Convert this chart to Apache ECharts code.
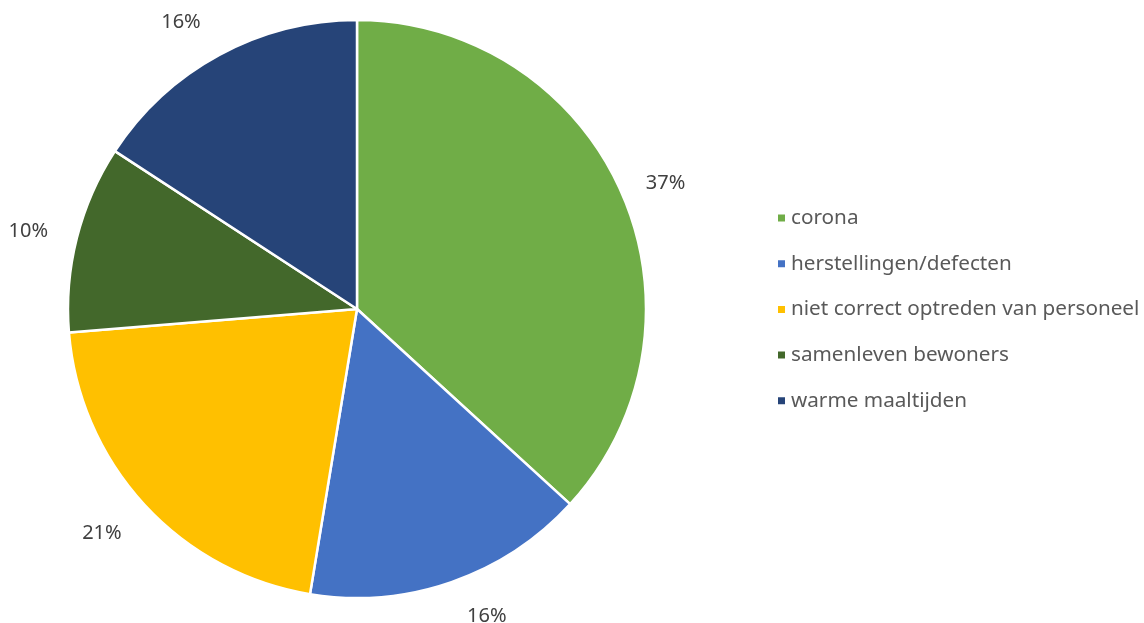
<!DOCTYPE html>
<html>
<head>
<meta charset="utf-8">
<script src="https://cdn.jsdelivr.net/npm/echarts@6/dist/echarts.min.js"></script>
<style>html,body{margin:0;padding:0;background:#fff}#c{width:1144px;height:623px}</style>
</head>
<body>
<div id="c"></div>
<script>
const categories = ['corona', 'herstellingen/defecten', 'niet correct optreden van personeel', 'samenleven bewoners', 'warme maaltijden'];
const values = [36.8, 15.8, 21.1, 10.5, 15.8];
const labels = ['37%', '16%', '21%', '10%', '16%'];
const colors = ['#70AD47', '#4472C4', '#FFC000', '#43682B', '#264478'];
// label nudges (pixels) to mimic the spreadsheet's label placement
const labelNudge = [[1, 10], [20, -10], [-8, -3], [-3, 5], [-16, 9]];

const chart = echarts.init(document.getElementById('c'));
const font = '"Noto Sans", "Open Sans", sans-serif';
chart.setOption({
  animation: false,
  color: colors,
  legend: {
    orient: 'vertical',
    left: 771,
    top: 202,
    itemWidth: 9,
    itemHeight: 9,
    itemGap: 23.7,
    icon: 'rect',
    data: categories,
    textStyle: { color: '#595959', fontSize: 20.7, fontFamily: font, lineHeight: 22 }
  },
  series: [
    {
      type: 'pie',
      center: [357, 309],
      radius: [0, 289],
      startAngle: 90,
      clockwise: true,
      silent: true,
      label: { show: false },
      labelLine: { show: false },
      itemStyle: { borderColor: '#ffffff', borderWidth: 2.5 },
      data: categories.map((n, i) => ({ name: n, value: values[i] }))
    },
    {
      type: 'pie',
      center: [357, 309],
      radius: [331, 335],
      startAngle: 90,
      clockwise: true,
      silent: true,
      legendHoverLink: false,
      itemStyle: { color: 'rgba(0,0,0,0)' },
      label: {
        show: true,
        position: 'inside',
        color: '#404040',
        fontSize: 20,
        fontFamily: font,
        formatter: p => labels[p.dataIndex]
      },
      labelLine: { show: false },
      data: categories.map((n, i) => ({ name: n, value: values[i], label: { offset: labelNudge[i] } }))
    }
  ]
});
</script>
</body>
</html>
